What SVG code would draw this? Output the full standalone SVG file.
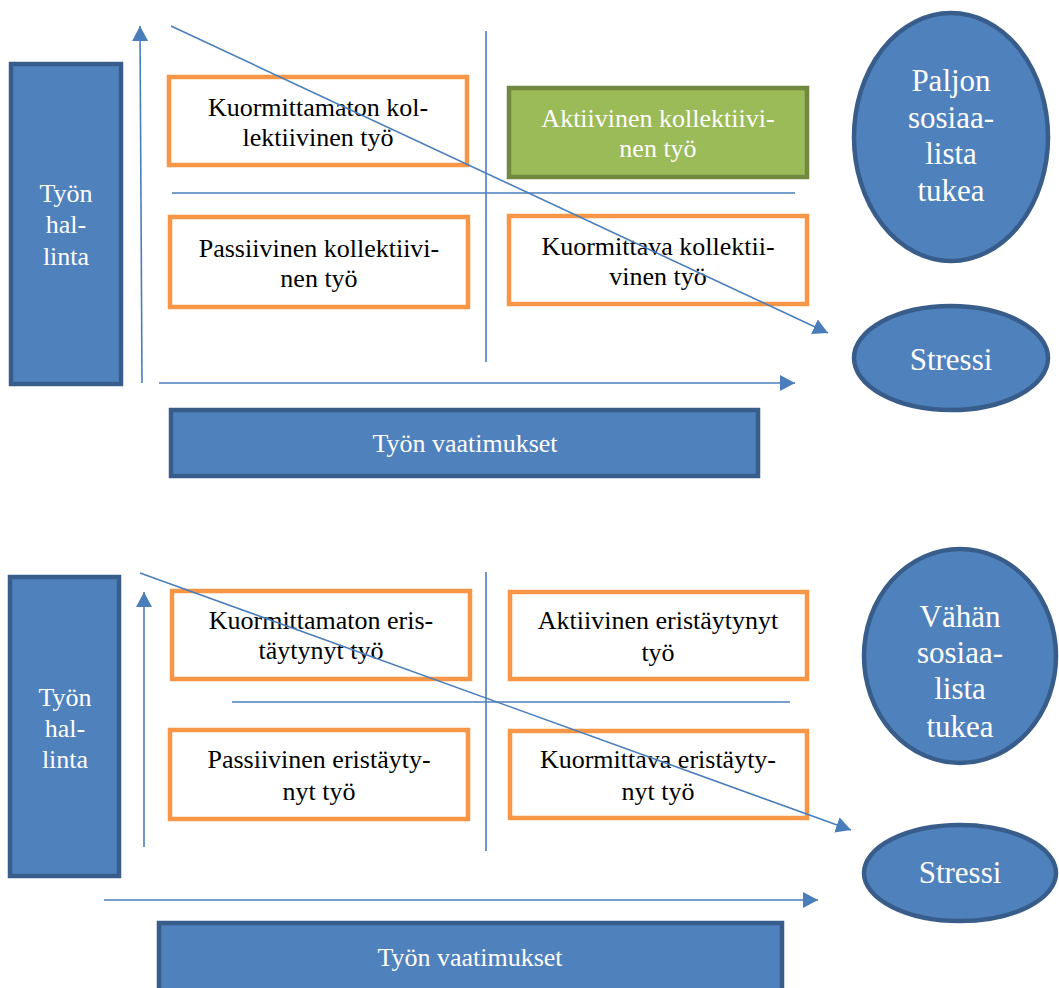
<svg xmlns="http://www.w3.org/2000/svg" width="1059" height="988" viewBox="0 0 1059 988">
  <style>
    text { font-family: "Liberation Serif", Tinos, "Times New Roman", "DejaVu Serif", serif; text-anchor: middle; }
    .lbl { font-size: 26px; fill: #000; }
    .wlbl { font-size: 26px; fill: #fff; }
    .big { font-size: 31px; fill: #fff; }
    .box { fill: #fff; stroke: #f79646; stroke-width: 4.5; }
    .green { fill: #9bbb59; stroke: #71893f; stroke-width: 4.5; }
    .blue { fill: #4f81bd; stroke: #385d8a; stroke-width: 4.5; }
    .ax { fill: none; stroke: #4a7ebb; stroke-width: 1.6; }
  </style>
  <defs>
    <marker id="tip" markerUnits="userSpaceOnUse" markerWidth="16" markerHeight="16" viewBox="0 0 16 16" refX="15" refY="8" orient="auto">
      <path d="M0,0 L15,8 L0,16 Z" fill="#4a7ebb"/>
    </marker>
  </defs>
  <rect width="1059" height="988" fill="#fff"/>

  <!-- upper model: plenty of social support -->
  <g id="axes-upper">
    <line class="ax" x1="142" y1="383" x2="140" y2="26" marker-end="url(#tip)"/>
    <line class="ax" x1="159" y1="383" x2="795" y2="383" marker-end="url(#tip)"/>
    <line class="ax" x1="486" y1="31" x2="486" y2="362"/>
    <line class="ax" x1="172" y1="193" x2="795" y2="193"/>
  </g>

  <g id="hallinta-upper">
    <rect class="blue" x="11" y="64" width="110" height="320"/>
    <text class="wlbl" x="66" y="202">Työn</text>
    <text class="wlbl" x="66" y="233">hal-</text>
    <text class="wlbl" x="66" y="265">linta</text>
  </g>
  <g id="kuormittamaton-kollektiivinen">
    <rect class="box" x="169" y="77" width="298" height="88"/>
    <text class="lbl" x="318" y="116">Kuormittamaton kol-</text>
    <text class="lbl" x="318" y="146">lektiivinen työ</text>
  </g>
  <g id="aktiivinen-kollektiivinen">
    <rect class="green" x="509" y="88" width="298" height="89"/>
    <text class="wlbl" x="658" y="127">Aktiivinen kollektiivi-</text>
    <text class="wlbl" x="658" y="157">nen työ</text>
  </g>
  <g id="passiivinen-kollektiivinen">
    <rect class="box" x="170" y="217" width="298" height="90"/>
    <text class="lbl" x="319" y="257">Passiivinen kollektiivi-</text>
    <text class="lbl" x="319" y="287">nen työ</text>
  </g>
  <g id="kuormittava-kollektiivinen">
    <rect class="box" x="509" y="216" width="298" height="88"/>
    <text class="lbl" x="658" y="255">Kuormittava kollektii-</text>
    <text class="lbl" x="658" y="285">vinen työ</text>
  </g>
  <g id="tuki-paljon">
    <ellipse class="blue" cx="951" cy="137" rx="97" ry="124"/>
    <text class="big" x="951" y="91">Paljon</text>
    <text class="big" x="951" y="128">sosiaa-</text>
    <text class="big" x="951" y="164">lista</text>
    <text class="big" x="951" y="201">tukea</text>
  </g>
  <g id="stressi-upper">
    <ellipse class="blue" cx="951" cy="358" rx="97" ry="52"/>
    <text class="big" x="951" y="370">Stressi</text>
  </g>
  <g id="vaatimukset-upper">
    <rect class="blue" x="171" y="410" width="587" height="66"/>
    <text class="wlbl" x="465" y="452">Työn vaatimukset</text>
  </g>

  <!-- lower model: little social support -->
  <g id="axes-lower">
    <line class="ax" x1="144" y1="847" x2="144" y2="592" marker-end="url(#tip)"/>
    <line class="ax" x1="104" y1="900" x2="818" y2="900" marker-end="url(#tip)"/>
    <line class="ax" x1="486" y1="572" x2="486" y2="851"/>
    <line class="ax" x1="232" y1="702" x2="790" y2="702"/>
  </g>

  <g id="hallinta-lower">
    <rect class="blue" x="10" y="577" width="109" height="299"/>
    <text class="wlbl" x="65" y="706">Työn</text>
    <text class="wlbl" x="65" y="737">hal-</text>
    <text class="wlbl" x="65" y="768">linta</text>
  </g>
  <g id="kuormittamaton-eristaytynyt">
    <rect class="box" x="172" y="591" width="298" height="88"/>
    <text class="lbl" x="321" y="629">Kuormittamaton eris-</text>
    <text class="lbl" x="321" y="659">täytynyt työ</text>
  </g>
  <g id="aktiivinen-eristaytynyt">
    <rect class="box" x="510" y="592" width="297" height="87"/>
    <text class="lbl" x="658" y="629">Aktiivinen eristäytynyt</text>
    <text class="lbl" x="658" y="661">työ</text>
  </g>
  <g id="passiivinen-eristaytynyt">
    <rect class="box" x="170" y="730" width="298" height="89"/>
    <text class="lbl" x="319" y="768">Passiivinen eristäyty-</text>
    <text class="lbl" x="319" y="800">nyt työ</text>
  </g>
  <g id="kuormittava-eristaytynyt">
    <rect class="box" x="510" y="731" width="297" height="87"/>
    <text class="lbl" x="658" y="768">Kuormittava eristäyty-</text>
    <text class="lbl" x="658" y="800">nyt työ</text>
  </g>
  <g id="tuki-vahan">
    <ellipse class="blue" cx="960" cy="656" rx="96" ry="107"/>
    <text class="big" x="960" y="627">Vähän</text>
    <text class="big" x="960" y="663">sosiaa-</text>
    <text class="big" x="960" y="699">lista</text>
    <text class="big" x="960" y="737">tukea</text>
  </g>
  <g id="stressi-lower">
    <ellipse class="blue" cx="960" cy="873" rx="96" ry="48"/>
    <text class="big" x="960" y="883">Stressi</text>
  </g>
  <g id="vaatimukset-lower">
    <rect class="blue" x="159" y="923" width="623" height="72"/>
    <text class="wlbl" x="470" y="966">Työn vaatimukset</text>
  </g>

  <!-- stress trend arrows, drawn over the quadrant boxes -->
  <g id="connectors">
    <line class="ax" x1="171" y1="26" x2="828" y2="333" marker-end="url(#tip)"/>
    <line class="ax" x1="140" y1="573" x2="851" y2="830" marker-end="url(#tip)"/>
  </g>
</svg>
